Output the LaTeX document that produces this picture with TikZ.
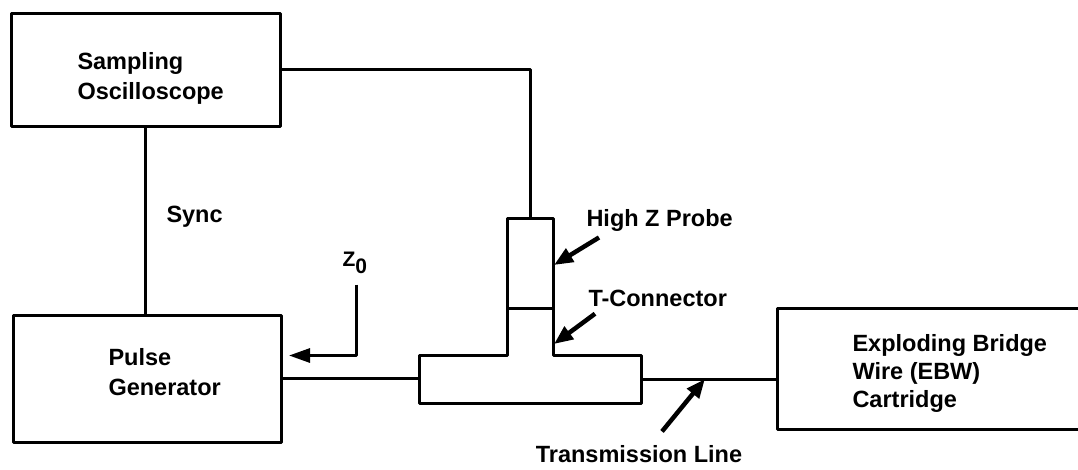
\documentclass[tikz,border=0pt]{standalone}
\usepackage{fontspec}
\setsansfont{Liberation Sans}
\usetikzlibrary{arrows.meta,calc}

\begin{document}
\begin{tikzpicture}[x=1pt,y=-1pt,
    font=\sffamily\bfseries\fontsize{23.5}{30}\selectfont,
    line width=3pt, line join=round,
    blk/.style={draw, anchor=north west, inner sep=0pt, outer sep=0pt},
    txt/.style={anchor=north west, align=left, inner sep=0pt},
    lbl/.style={anchor=base west, inner sep=0pt},
    ptr/.style={line width=4.5pt, -{Triangle[length=19pt,width=15pt]}},
    zarr/.style={line width=3pt, -{Triangle[length=21pt,width=14pt]}}]

    % Rahmen
    \useasboundingbox (0,0) rectangle (1078,469);
    \clip (0,0) rectangle (1078,469);

    % Kästen
    \node[blk, minimum width=269pt, minimum height=113pt] (osc) at (11,13) {};
    \node[blk, minimum width=268pt, minimum height=127pt] (pg) at (13,315) {};
    \node[blk, minimum width=330pt, minimum height=121pt] (ebw) at (777,308) {};

    % Beschriftung der Kästen
    \node[txt] (osct) at (76,51) {Sampling\\Oscilloscope};
    \node[txt] (pgt) at (107,347) {Pulse\\Generator};
    \node[txt, font=\sffamily\bfseries\fontsize{23.5}{28}\selectfont]
        (ebwt) at (851,333) {Exploding Bridge\\Wire (EBW)\\Cartridge};

    % Tastkopf und T-Stück
    \node[blk, minimum width=46pt, minimum height=90pt] (probe) at (507,218) {};
    \node[anchor=north west, inner sep=0pt, outer sep=0pt, minimum width=222pt,
        minimum height=48pt] (tcon) at (419,355) {};
    \draw (tcon.north west) -- (tcon.north west -| probe.south west)
        -- (probe.south west) -- (probe.south east)
        -- (probe.south east |- tcon.north) -- (tcon.north east)
        -- (tcon.south east) -- (tcon.south west) -- cycle;

    % Leitungen
    \draw (osc.east) -| (probe.north);
    \draw (osc.south) -- (osc.south |- pg.north);
    \draw (pg.east) -- (pg.east -| tcon.west);
    \draw (tcon.east) -- (tcon.east -| ebw.west);

    % Texte
    \node[lbl] (sync) at (165,222) {Sync};
    \node[lbl, font=\sffamily\bfseries\fontsize{21}{21}\selectfont] (z0) at (341,266)
        {Z\raisebox{-7pt}{0}};
    \node[lbl] (hzp) at (585,226) {High Z Probe};
    \node[lbl] (tct) at (587,306) {T-Connector};
    \node[lbl, anchor=base] (tline) at (639,462) {Transmission Line};

    % Pfeile
    \draw[zarr] ($(z0.south)+(2,10)$) |- ($(pg.east)+(8,-23)$);
    \draw[ptr] ($(hzp.south west)+(14,5)$) -- ($(probe.east)+(1,2)$);
    \draw[ptr] ($(tct.south west)+(8,6)$) -- ($(probe.south east |- tcon.north)+(1,-11)$);
    \draw[ptr] ($(tline.north)+(23,-12)$)
        -- ($(tcon.east)!0.47!(tcon.east -| ebw.west)$);

\end{tikzpicture}
\end{document}
